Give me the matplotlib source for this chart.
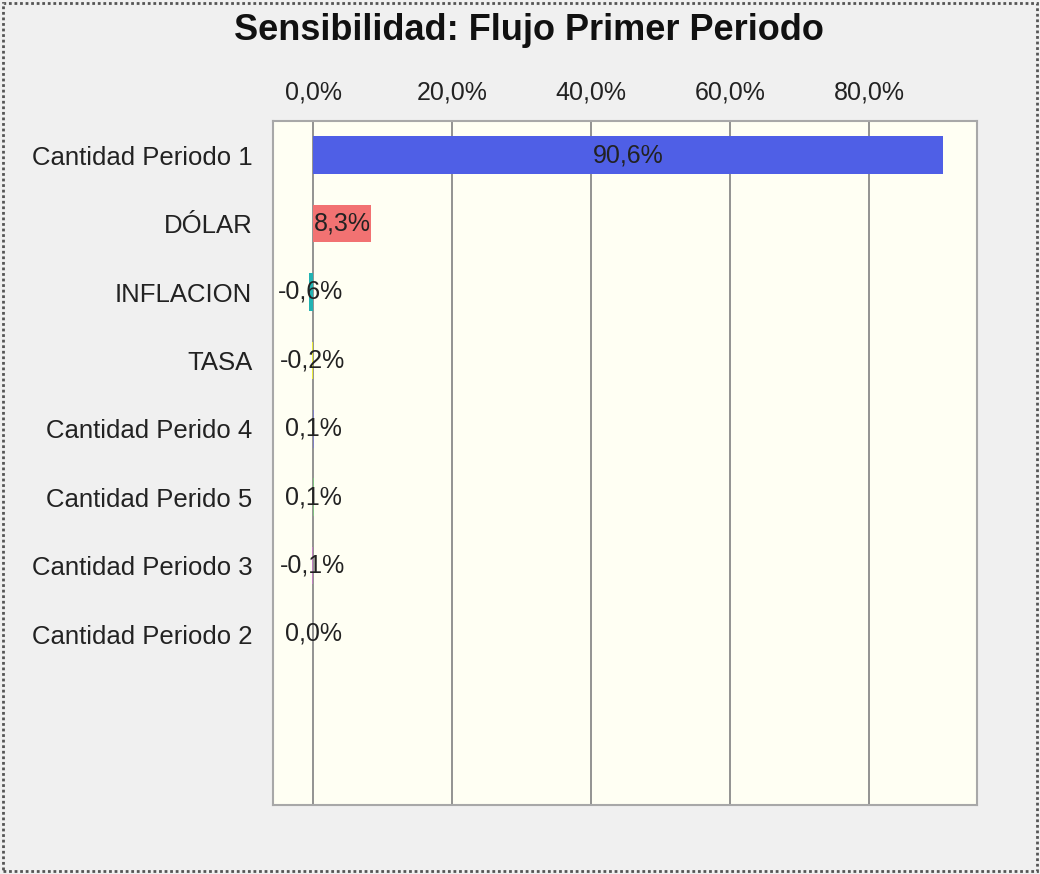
import matplotlib.pyplot as plt
from matplotlib.patches import Rectangle

plt.rcParams['font.family'] = ['Liberation Sans', 'DejaVu Sans']

categories = ["Cantidad Periodo 1", "DÓLAR", "INFLACION", "TASA",
              "Cantidad Perido 4", "Cantidad Perido 5", "Cantidad Periodo 3",
              "Cantidad Periodo 2"]
values = [90.6, 8.3, -0.6, -0.2, 0.1, 0.1, -0.1, 0.0]
colors = ["#4F5FE6", "#F27272", "#22B3B3", "#ECEC3A",
          "#8080C0", "#80C080", "#C080C0", "#C0C080"]
ticks = [0, 20, 40, 60, 80]


def fmt(v):
    return f"{v:.1f}%".replace(".", ",")


fig = plt.figure(figsize=(10.4, 8.74), dpi=100, facecolor="#F0F0F0")
ax = fig.add_axes([273 / 1040, 1 - 805 / 874, 704 / 1040, 684 / 874])
ax.set_facecolor("#FFFFF3")

y = list(range(len(categories)))
bars = ax.barh(y, values, height=0.55, color=colors, zorder=3)
for b, v in zip(bars, values):
    ax.text(v / 2, b.get_y() + b.get_height() / 2, fmt(v), ha="center",
            va="center", fontsize=18, color="#222222", zorder=4)

ax.set_xlim(-5.76, 95.5)
ax.set_ylim(9.5, -0.5)
ax.set_yticks(y)
ax.set_yticklabels(categories, fontsize=18.5, color="#222222")
ax.set_xticks(ticks)
ax.set_xticklabels([fmt(t) for t in ticks], fontsize=18, color="#222222")
ax.xaxis.tick_top()
ax.tick_params(length=0, pad=12)
ax.tick_params(axis="y", pad=15)
ax.grid(axis="x", color="#808080", linewidth=1.2, zorder=1)
for s in ax.spines.values():
    s.set_color("#A8A8A8")
    s.set_linewidth(1.5)

fig.text(529 / 1040, 1 - 31 / 874, "Sensibilidad: Flujo Primer Periodo",
         ha="center", va="center", fontsize=26, fontweight="bold",
         color="#111111")

fig.patches.append(Rectangle((0.003, 0.003), 0.994, 0.994,
                             transform=fig.transFigure, fill=False,
                             edgecolor="#555555", linestyle=(0, (1, 1)),
                             linewidth=2))

plt.savefig("out.png", dpi=100, facecolor=fig.get_facecolor())
